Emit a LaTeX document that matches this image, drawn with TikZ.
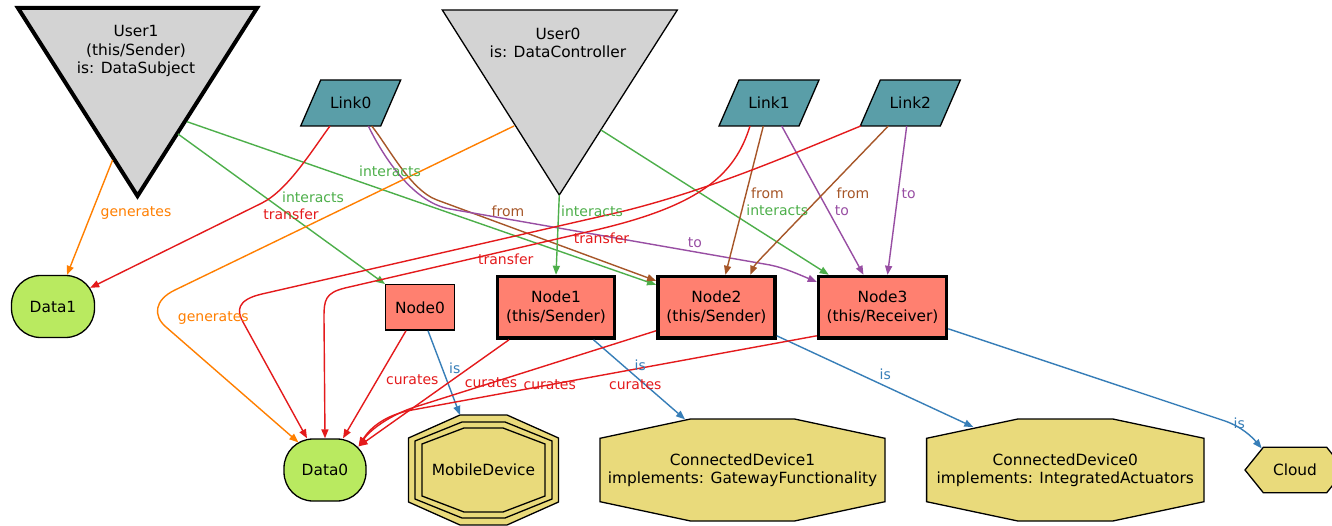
\documentclass[tikz,border=0pt]{standalone}
\usepackage{fontspec}
\setmainfont{DejaVu Sans}
\usetikzlibrary{arrows.meta,calc}

\definecolor{cGen}{HTML}{FF7F00}
\definecolor{cAct}{HTML}{4DAF4A}
\definecolor{cXfer}{HTML}{E41A1C}
\definecolor{cFrom}{HTML}{A65628}
\definecolor{cTo}{HTML}{984EA3}
\definecolor{cIs}{HTML}{377EB8}
\definecolor{cUser}{HTML}{D3D3D3}
\definecolor{cLink}{HTML}{5A9EA8}
\definecolor{cProc}{HTML}{FF8070}
\definecolor{cData}{HTML}{B9EA60}
\definecolor{cDev}{HTML}{E9DA7B}

\newcommand\nodefont{\fontsize{15.4}{18.5}\selectfont}
\newcommand\lblfont{\fontsize{14}{16}\selectfont}

\pgfdeclarelayer{bg}
\pgfsetlayers{bg,main}

% octagon outline around a text node: style, node, half width, half height,
% half width of top edge, half height of side edge
\newcommand\octoutline[6]{%
  \begin{pgfonlayer}{bg}
  \draw[#1, shift={(#2.center)}] (-#5,-#4) -- (#5,-#4) -- (#3,-#6) -- (#3,#6)
     -- (#5,#4) -- (-#5,#4) -- (-#3,#6) -- (-#3,-#6) -- cycle;
  \end{pgfonlayer}}

\tikzset{
  conn/.style={line width=1.4pt, -{Triangle[length=9pt,width=7pt]}},
  gen/.style={conn, draw=cGen},
  act/.style={conn, draw=cAct},
  xfer/.style={conn, draw=cXfer},
  fromedge/.style={conn, draw=cFrom},
  toedge/.style={conn, draw=cTo},
  isedge/.style={conn, draw=cIs},
  elbl/.style={font=\lblfont, anchor=base, inner sep=0pt},
  txt/.style={font=\nodefont, align=center, inner sep=0pt},
  usershape/.style={draw=black, fill=cUser, line join=miter},
  linkshape/.style={draw=black, fill=cLink, line width=1.3pt},
  devshape/.style={draw=black, fill=cDev, line width=1.3pt},
  proc/.style={draw=black, fill=cProc, font=\nodefont, align=center, inner sep=0pt},
  procthin/.style={proc, line width=1.3pt},
  procthick/.style={proc, line width=3.5pt},
  datanode/.style={draw=black, fill=cData, line width=1.3pt, rounded corners=29pt,
    font=\nodefont, minimum width=82pt, minimum height=62pt, inner sep=0pt},
}

\begin{document}
\begin{tikzpicture}[x=1pt, y=-1pt]
\useasboundingbox (0,0) rectangle (1332,526);
\begin{pgfonlayer}{bg}
  \fill[white] (0,0) rectangle (1332,526);
\end{pgfonlayer}

% ---- users (inverted triangles) ----
\node[txt] (User1) at (136,51) {User1\\(this/Sender)\\is: DataSubject};
\begin{pgfonlayer}{bg}
  \draw[usershape, line width=4pt, shift={(User1.center)}] (-118,-43) -- (121,-43) -- (1.5,145) -- cycle;
\end{pgfonlayer}
\node[txt] (User0) at (558,43) {User0\\is: DataController};
\begin{pgfonlayer}{bg}
  \draw[usershape, line width=1.3pt, shift={(User0.center)}] (-115.7,-33) -- (119.3,-33) -- (1.3,152) -- cycle;
\end{pgfonlayer}

% ---- links (parallelograms) ----
\foreach \nm/\px in {Link0/350.7, Link1/769, Link2/910.3}{
  \node[txt] (\nm) at (\px,103) {\nm};
  \begin{pgfonlayer}{bg}
    \draw[linkshape, shift={(\nm.center)}] (-30,-23) -- (50,-23) -- (30,23) -- (-50,23) -- cycle;
  \end{pgfonlayer}
}

% ---- data ----
\node[datanode, minimum width=83pt] (Data1) at (53,306.5) {Data1};
\node[datanode] (Data0) at (325,470) {Data0};

% ---- processing nodes ----
\node[procthin, minimum width=68.7pt, minimum height=45.4pt] (Node0) at (420,307.4) {Node0};
\node[procthick, minimum width=117pt, minimum height=61.5pt] (Node1) at (556,307.3) {Node1\\(this/Sender)};
\node[procthick, minimum width=117.2pt, minimum height=61.5pt] (Node2) at (716.4,307.3) {Node2\\(this/Sender)};
\node[procthick, minimum width=128pt, minimum height=61.5pt] (Node3) at (882.5,307.3) {Node3\\(this/Receiver)};

% ---- devices ----
\node[txt] (mob) at (483.5,470) {MobileDevice};
\octoutline{devshape}{mob}{75}{55}{23.5}{32}
\octoutline{draw=black, line width=1.3pt}{mob}{68.5}{48}{21.5}{29}
\octoutline{draw=black, line width=1.3pt}{mob}{61.5}{42}{19.5}{26}
\node[txt] (cd1) at (742.5,470) {ConnectedDevice1\\implements: GatewayFunctionality};
\octoutline{devshape}{cd1}{142.5}{51}{52}{31.7}
\node[txt] (cd0) at (1065.3,470) {ConnectedDevice0\\implements: IntegratedActuators};
\octoutline{devshape}{cd0}{138.7}{51}{47.5}{31.7}
\node[txt] (cloud) at (1295,470) {Cloud};
\begin{pgfonlayer}{bg}
  \draw[devshape, shift={(cloud.center)}] (-50,0) -- (-31.7,-22.7) -- (31.7,-22.7) -- (50,0)
     -- (31.7,22.7) -- (-31.7,22.7) -- cycle;
\end{pgfonlayer}

% ---- connectors ----
% from User1
\draw[gen] ($(User1)+(-23.4,109)$) -- ($(Data1.north)+(14,0)$);
\draw[act] ($(User1)+(42,83)$) -- (Node0.north west);
\draw[act] ($(User1)+(51,70.7)$) -- ($(Node2.north west)+(0,10)$);
% from Link0
\draw[xfer] ($(Link0)+(-20.7,23)$) .. controls (313,149) and (288,190) .. (262,203)
   -- ($(Data1.north east)+(-5,13)$);
\draw[fromedge] ($(Link0)+(21,23)$) .. controls (388,146) and (410,190) .. (437,200)
   -- ($(Node2.north west)+(0,6)$);
\draw[toedge] ($(Link0)+(17.6,23)$) .. controls (380,150) and (410,202) .. (450,209)
   -- (770,265) .. controls (785,268) and (800,275) .. ($(Node3.north west)+(0,7)$);
% from User0
\draw[act] ($(User0)+(1.3,152)$) -- (Node1.north);
\draw[gen] ($(User0)+(-44,83)$) -- (175,290) .. controls (154,300) and (153,316) .. (166,327)
   -- ($(Data0.north west)+(15,4)$);
\draw[act] ($(User0)+(43,87)$) -- ($(Node3.north west)+(12,0)$);
% from Link1
\draw[xfer] ($(Link1)+(-19,23)$) .. controls (735,175) and (700,205) .. (600,229)
   -- (345,288) .. controls (325,293) and (324,300) .. (324,318) -- (Data0.north);
\draw[fromedge] ($(Link1)+(-5.7,23)$) -- ($(Node2.north)+(9,0)$);
\draw[toedge] ($(Link1)+(12.7,23)$) -- ($(Node3.north)+(-19,0)$);
% from Link2
\draw[xfer] ($(Link2)+(-49.6,23)$) .. controls (790,155) and (710,190) .. (620,212)
   -- (262,294) .. controls (236,300) and (237,311) .. (243,322) -- ($(Data0.north)+(-18,0)$);
\draw[fromedge] ($(Link2)+(-22,23)$) -- (768,251) .. controls (761,258) and (754,266) .. ($(Node2.north)+(34,0)$);
\draw[toedge] ($(Link2)+(-3.6,23)$) -- ($(Node3.north)+(5,0)$);
% from the processing nodes
\draw[xfer] ($(Node0.south)+(-14,0)$) -- ($(Data0.north)+(18,0)$);
\draw[isedge] ($(Node0.south)+(8,0)$) -- ($(mob)+(-23.5,-55)$);
\draw[xfer] ($(Node1.south)+(-47,0)$) -- ($(Data0.north east)+(-8,8)$);
\draw[isedge] ($(Node1.south)+(37.5,0)$) -- ($(cd1)+(-57.5,-50.7)$);
\draw[xfer] ($(Node2.south west)+(0,-9)$) -- (415,407) .. controls (390,415) and (370,430) .. ($(Data0.north east)+(-8,8)$);
\draw[isedge] ($(Node2.south east)+(0,-4)$) -- ($(cd0)+(-92,-43)$);
\draw[xfer] ($(Node3.south west)+(0,-4)$) -- (412,410) .. controls (385,415) and (370,428) .. ($(Data0.north east)+(-8,8)$);
\draw[isedge] ($(Node3.south east)+(0,-11)$) -- (1225,421) .. controls (1242,427) and (1252,437) .. ($(cloud)+(-33.3,-21.7)$);

% ---- connector labels ----
\node[elbl, text=cGen]  (lb1)  at (136,216.5) {generates};
\node[elbl, text=cAct]  (lb2)  at (313,202.5) {interacts};
\node[elbl, text=cXfer] (lb3)  at (291,219.5) {transfer};
\node[elbl, text=cAct]  (lb4)  at (390,176.5) {interacts};
\node[elbl, text=cFrom] (lb5)  at (508,217) {from};
\node[elbl, text=cAct]  (lb6)  at (592,216.5) {interacts};
\node[elbl, text=cXfer] (lb7)  at (601.5,244) {transfer};
\node[elbl, text=cXfer] (lb8)  at (505.8,264.5) {transfer};
\node[elbl, text=cTo]   (lb9)  at (695,248) {to};
\node[elbl, text=cFrom] (lb10) at (767.5,198.5) {from};
\node[elbl, text=cAct]  (lb11) at (777.3,216) {interacts};
\node[elbl, text=cFrom] (lb12) at (853,198.5) {from};
\node[elbl, text=cTo]   (lb13) at (842,216) {to};
\node[elbl, text=cTo]   (lb14) at (908.7,198.5) {to};
\node[elbl, text=cGen]  (lb15) at (213.3,322) {generates};
\node[elbl, text=cXfer] (lb16) at (412.3,384.5) {curates};
\node[elbl, text=cIs]   (lb17) at (454.7,373) {is};
\node[elbl, text=cXfer] (lb18) at (491,387) {curates};
\node[elbl, text=cXfer] (lb19) at (549.7,389.5) {curates};
\node[elbl, text=cIs]   (lb20) at (640.3,370.5) {is};
\node[elbl, text=cXfer] (lb21) at (635.3,389.5) {curates};
\node[elbl, text=cIs]   (lb22) at (885.3,379.5) {is};
\node[elbl, text=cIs]   (lb23) at (1239.3,428) {is};
\end{tikzpicture}
\end{document}
